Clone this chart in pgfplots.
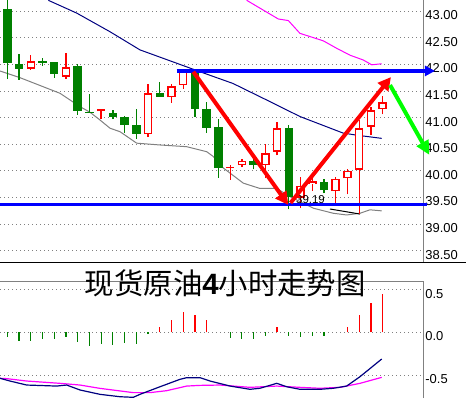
\documentclass[border=0pt]{standalone}
\usepackage{pgfplots}
\pgfplotsset{compat=1.18}
\usepackage{pgfplotstable}
\usepackage{fontspec}
\setmainfont{Liberation Sans}
\newfontfamily\cjk{Noto Sans CJK SC}
\usetikzlibrary{arrows.meta}

\definecolor{mgreen}{HTML}{008000}
\definecolor{mred}{HTML}{FF0000}
\definecolor{mnavy}{HTML}{000080}
\definecolor{mmag}{HTML}{FF00FF}
\definecolor{mgray}{HTML}{808080}
\definecolor{mblue}{HTML}{0000FF}
\definecolor{mlime}{HTML}{00FF00}

% up (red, hollow) candles
\pgfplotstableread{
i  O      H      L      C
3  41.92  42.17  41.90  42.06
6  41.77  42.21  41.73  41.94
9  41.12  41.17  40.97  41.16
13 40.69  41.63  40.64  41.46
15 41.38  41.63  41.28  41.59
16 41.61  41.87  41.54  41.86
20 40.05  40.11  39.83  40.08
21 40.11  40.22  40.07  40.19
23 40.11  40.50  39.86  40.33
24 40.36  40.92  40.29  40.80
26 39.50  39.88  39.30  39.72
27 39.75  39.89  39.63  39.81
29 39.62  39.89  39.39  39.85
30 39.86  40.04  39.56  40.00
31 40.02  40.96  39.20  40.80
32 40.83  41.19  40.67  41.14
33 41.16  41.41  41.06  41.29
}\upc

% down (green, filled) candles
\pgfplotstableread{
i  O      H      L      C
1  43.04  43.20  41.72  42.02
2  42.01  42.19  41.71  41.92
4  42.055 42.12  41.97  42.03
5  42.04  42.05  41.75  41.82
7  41.97  42.00  41.05  41.13
8  41.11  41.44  41.09  41.09
10 41.09  41.14  40.97  41.02
11 41.01  41.03  40.72  40.87
12 40.86  41.16  40.60  40.70
14 41.46  41.67  41.39  41.39
17 41.86  41.89  41.02  41.17
18 41.16  41.30  40.72  40.81
19 40.83  40.97  39.87  40.05
22 40.19  40.23  40.03  40.11
25 40.80  40.86  39.28  39.51
28 39.79  39.84  39.58  39.64
}\downc

\pgfplotsset{
  ebar/.style 2 args={forget plot, draw=none, mark=none,
    error bars/.cd, y dir=plus, y explicit, error mark=none,
    error bar style={draw=#1, line width=#2}},
  tl/.style={yticklabel style={anchor=west, inner sep=0pt, xshift=1.5bp, yshift=-4bp,
    font=\fontsize{13}{13}\selectfont, text=black}},
}

\begin{document}
\begin{tikzpicture}[x=1bp,y=1bp]
\useasboundingbox (0,0) rectangle (466,398);

\begin{axis}[
  name=lower,
  at={(0,0)}, anchor=south west,
  scale only axis, width=423.7bp, height=116.3bp,
  xmin=0.378, xmax=36.5, ymin=-0.770, ymax=0.593,
  clip=false,
  axis x line*=top, axis y line*=right,
  axis line style={mgray, line width=1bp},
  xtick=\empty,
  ytick={-0.5,0,0.5}, yticklabels={-0.5,0.0,0.5},
  major tick length=0pt,
  ymajorgrids, grid style={mgray, line width=0.8bp, dash pattern=on 1bp off 3bp},
  tl,
]
\addplot[ycomb, mgreen, line width=1.2bp, mark=none] coordinates {(1,-0.06) (2,-0.10) (3,-0.10) (4,-0.074) (5,-0.074) (6,-0.051) (7,-0.116) (8,-0.158) (9,-0.135) (10,-0.145) (11,-0.13) (12,-0.133) (13,-0.02) (20,-0.07) (21,-0.079) (22,-0.079) (23,-0.04) (25,-0.04) (26,-0.05) (27,-0.04) (28,-0.04)};
\addplot[ycomb, mred, line width=1.2bp, mark=none] coordinates {(14,0.066) (15,0.148) (16,0.241) (17,0.206) (18,0.144) (24,0.066) (30,0.066) (31,0.206) (32,0.347) (33,0.449)};
\addplot[mmag, line width=1.2bp] coordinates {(0.378,-0.539) (0.95,-0.543) (2.65,-0.571) (5.49,-0.598) (7.20,-0.618) (8.90,-0.657) (11.74,-0.707) (13.16,-0.707) (14.59,-0.684) (16.29,-0.630) (17.43,-0.622) (19.14,-0.618) (21.69,-0.645) (23.97,-0.630) (25.95,-0.645) (27.66,-0.656) (29.37,-0.645) (31.07,-0.598) (32.92,-0.528)};
\addplot[mnavy, line width=1.2bp] coordinates {(0.378,-0.539) (1.23,-0.571) (2.65,-0.618) (5.21,-0.630) (6.06,-0.618) (7.20,-0.676) (8.90,-0.727) (10.61,-0.755) (11.74,-0.762) (12.31,-0.727) (14.02,-0.638) (15.72,-0.551) (16.29,-0.532) (17.43,-0.532) (18.28,-0.571) (19.99,-0.630) (21.69,-0.668) (22.54,-0.656) (23.97,-0.598) (24.82,-0.638) (25.95,-0.668) (27.66,-0.668) (28.79,-0.656) (29.93,-0.630) (31.07,-0.520) (32.92,-0.313)};
\end{axis}

\begin{axis}[
  at={(lower.north west)}, anchor=south west, yshift=19.4bp,
  scale only axis, width=423.7bp, height=262.3bp,
  xmin=0.378, xmax=36.5, ymin=38.285, ymax=43.206,
  clip=false,
  axis x line*=bottom, axis y line*=right,
  y axis line style={mgray, line width=1bp},
  x axis line style={black, line width=1.2bp},
  xtick=\empty,
  ytick={38.5,39,39.5,40,40.5,41,41.5,42,42.5,43},
  yticklabels={38.50,39.00,39.50,40.00,40.50,41.00,41.50,42.00,42.50,43.00},
  major tick length=0pt,
  ymajorgrids, grid style={mgray, line width=0.8bp, dash pattern=on 1bp off 3bp},
  tl,
]
% moving averages
\addplot[mnavy, line width=1bp] coordinates {(4.5,43.2) (6.92,42.96) (9.76,42.61) (12.31,42.27) (15.44,42.02) (17.43,41.86) (20.24,41.64) (23.11,41.33) (25.95,41.02) (29.62,40.71) (30.79,40.67) (32.92,40.61)};
\addplot[mmag, line width=1bp] coordinates {(21.41,43.2) (24.10,42.85) (24.96,42.82) (25.95,42.58) (27.94,42.44) (29.08,42.30) (30.22,42.17) (31.35,42.08) (32.07,41.99) (32.92,42.01)};
\addplot[mgray, line width=1bp] coordinates {(0.378,41.874) (2.08,41.749) (5.49,41.456) (7.20,41.205) (8.05,41.10) (8.90,40.955) (9.76,40.80) (10.61,40.735) (12.03,40.52) (14.02,40.486) (16.29,40.454) (18.0,40.36) (18.56,40.27) (19.41,40.055) (21.12,39.77) (22.54,39.67) (23.97,39.67) (25.10,39.516) (27.09,39.30) (28.79,39.205) (29.93,39.173) (31.07,39.205) (31.92,39.27) (32.92,39.25)};
\addplot[black, line width=1bp] coordinates {(28.51,39.285) (31.07,39.19)};

% green candles
\addplot[ebar={mgreen}{1.3bp}] table[x=i, y=L, y error plus expr=\thisrow{H}-\thisrow{L}] \downc;
\addplot[ebar={mgreen}{8.5bp}] table[x=i, y=C, y error plus expr=\thisrow{O}-\thisrow{C}] \downc;
% red candles
\addplot[ebar={mred}{1.3bp}] table[x=i, y=L, y error plus expr=\thisrow{H}-\thisrow{L}] \upc;
\addplot[ebar={mred}{8.5bp}] table[x=i, y=O, y error plus expr=\thisrow{C}-\thisrow{O}] \upc;
\addplot[ebar={white}{5.5bp}] table[x=i, y expr=\thisrow{O}+0.028, y error plus expr={max(0,\thisrow{C}-\thisrow{O}-0.056)}] \upc;

\node[font=\fontsize{11.5}{11.5}\selectfont, inner sep=0pt] at (axis cs:26.85,39.454) {39.19};

% support / resistance and arrows
\addplot[mblue, line width=3bp] coordinates {(0.378,39.374) (36.78,39.374)};
\addplot[mblue, line width=3.5bp, -{Triangle[length=10bp,width=10bp]}] coordinates {(15.44,41.875) (37.46,41.875)};
\addplot[mred, line width=4bp, -{Triangle[length=13bp,width=13bp]}] coordinates {(16.86,41.86) (24.96,39.36)};
\addplot[mred, line width=4bp, -{Triangle[length=13bp,width=13bp]}] coordinates {(25.15,39.40) (33.71,41.76)};
\addplot[mlime, line width=4bp, -{Triangle[length=14bp,width=13bp]}] coordinates {(33.63,41.61) (36.98,40.30)};
\end{axis}

\draw[black, line width=1.2bp] (0,135.7) -- (466,135.7);

\node[inner sep=0pt] at (225.3,115.1) {\fontsize{29.5}{29.5}\selectfont\cjk 现货原油{\normalfont\bfseries 4}小时走势图};
\end{tikzpicture}
\end{document}
